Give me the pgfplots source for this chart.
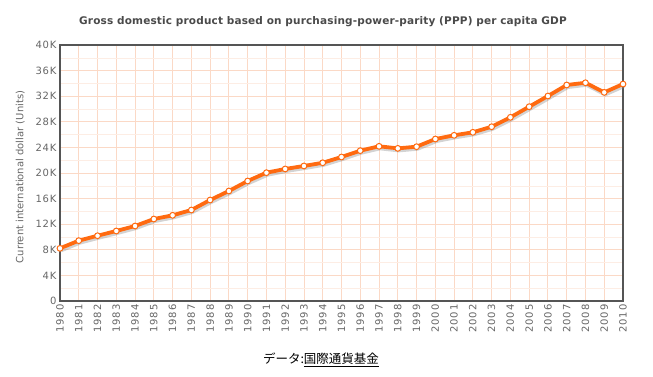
\documentclass[border=0pt]{standalone}
\usepackage{pgfplots}
\pgfplotsset{compat=1.18}
\usepackage{fontspec}
\setmainfont{DejaVu Sans}
\newfontfamily\tickfont[LetterSpace=8]{DejaVu Sans}
\newfontfamily\titlefont[LetterSpace=1.5]{DejaVu Sans}
\newfontfamily\cjk{Noto Sans CJK JP}
\definecolor{lineor}{HTML}{FF6A10}
\definecolor{gridmaj}{HTML}{FBD9C6}
\definecolor{gridmin}{HTML}{FDEDE4}
\definecolor{frame}{HTML}{555555}
\definecolor{ticktxt}{HTML}{666666}
\definecolor{titletxt}{HTML}{4A4A4A}
\begin{document}
\begin{tikzpicture}[x=1pt,y=1pt]
\path[use as bounding box] (0,0) rectangle (653,376);
\begin{axis}[
  at={(60pt,75pt)}, anchor=south west,
  scale only axis, width=563pt, height=256pt,
  xmin=1980, xmax=2010, ymin=0, ymax=40000,
  xtick={1980,...,2010},
  ytick={0,4000,...,40000},
  scaled y ticks=false,
  yticklabels={0,4K,8K,12K,16K,20K,24K,28K,32K,36K,40K},
  minor x tick num=1, minor y tick num=1,
  grid=both,
  major grid style={gridmaj, line width=0.8pt},
  minor grid style={gridmin, line width=0.6pt},
  major tick length=0pt, minor tick length=0pt,
  axis line style={frame, line width=1.6pt},
  tick label style={font=\tickfont\fontsize{10}{11}\selectfont, color=ticktxt},
  xticklabel style={rotate=90, anchor=east, /pgf/number format/1000 sep={}, /pgf/number format/assume math mode=true},
  ylabel={Current international dollar (Units)},
  ylabel style={font=\fontsize{10}{11}\selectfont, color=ticktxt, yshift=4pt, xshift=-4pt},
  clip=false,
]
\addplot[gray, opacity=0.35, line width=4pt, xshift=1pt, yshift=-2pt, no marks] coordinates {
(1980,8230)(1981,9430)(1982,10200)(1983,10940)(1984,11720)(1985,12810)(1986,13390)(1987,14220)(1988,15780)(1989,17190)(1990,18750)(1991,20050)(1992,20630)(1993,21100)(1994,21600)(1995,22500)(1996,23490)(1997,24170)(1998,23850)(1999,24110)(2000,25310)(2001,25890)(2002,26360)(2003,27230)(2004,28700)(2005,30360)(2006,32030)(2007,33750)(2008,34100)(2009,32600)(2010,33900)
};
\addplot[lineor, line width=3.8pt, mark=*, mark size=2.9pt, mark options={fill=white, draw=lineor, line width=1pt}] coordinates {
(1980,8230)(1981,9430)(1982,10200)(1983,10940)(1984,11720)(1985,12810)(1986,13390)(1987,14220)(1988,15780)(1989,17190)(1990,18750)(1991,20050)(1992,20630)(1993,21100)(1994,21600)(1995,22500)(1996,23490)(1997,24170)(1998,23850)(1999,24110)(2000,25310)(2001,25890)(2002,26360)(2003,27230)(2004,28700)(2005,30360)(2006,32030)(2007,33750)(2008,34100)(2009,32600)(2010,33900)
};
\end{axis}
\node[font=\titlefont\bfseries\fontsize{10.5}{12}\selectfont, text=titletxt] at (323,354) {Gross domestic product based on purchasing-power-parity (PPP) per capita GDP};
\node[font=\cjk\fontsize{12.5}{14}\selectfont, text=black] at (321,16) {データ:\underline{国際通貨基金}};
\end{tikzpicture}
\end{document}
